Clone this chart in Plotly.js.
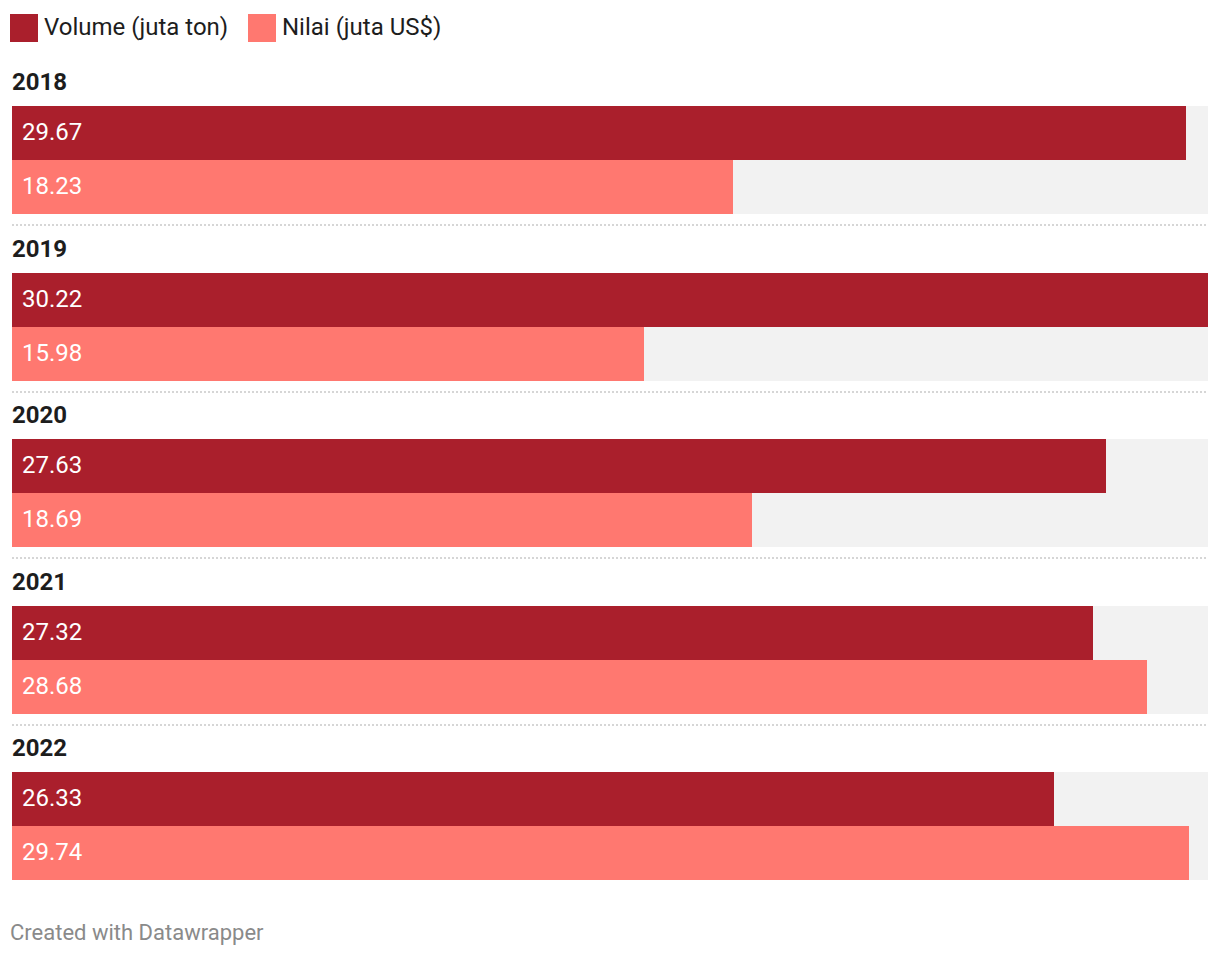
<!DOCTYPE html>
<html>
<head>
<meta charset="utf-8">
<script src="https://cdn.plot.ly/plotly-3.0.1.min.js"></script>
<style>
html,body{margin:0;padding:0;background:#fff;}
#chart{width:1220px;height:958px;}
</style>
</head>
<body>
<div id="chart"></div>
<script>
// ---- data ----
const years = ["2018", "2019", "2020", "2021", "2022"];
const volume = [29.67, 30.22, 27.63, 27.32, 26.33];   // Volume (juta ton)
const nilai  = [18.23, 15.98, 18.69, 28.68, 29.74];   // Nilai (juta US$)
const seriesNames = ["Volume (juta ton)", "Nilai (juta US$)"];

// ---- styling / layout constants ----
const W = 1220, H = 958;
const ML = 12, MR = 12;
const PLOT_W = W - ML - MR;
const C_VOL = "#aa1f2c", C_NIL = "#ff7870", C_BG = "#f2f2f2";
const FONT = "Roboto, 'Noto Sans', sans-serif";
const FIRST_TOP = 106, STEP = 166.5, BAR_H = 54;

const maxVal = Math.max(...volume, ...nilai);
const tops = years.map((_, i) => Math.round(FIRST_TOP + i * STEP));
const volY = tops.map(t => t + BAR_H / 2);
const nilY = tops.map(t => t + BAR_H * 1.5);
const bgY  = tops.map(t => t + BAR_H);
const px = p => (p - ML) / PLOT_W;

const traces = [
  {type: "bar", orientation: "h", x: years.map(() => maxVal), y: bgY, width: BAR_H * 2,
   marker: {color: C_BG}, hoverinfo: "skip", showlegend: false},
  {type: "bar", orientation: "h", name: seriesNames[0], x: volume, y: volY, width: BAR_H,
   marker: {color: C_VOL}, showlegend: false},
  {type: "bar", orientation: "h", name: seriesNames[1], x: nilai, y: nilY, width: BAR_H,
   marker: {color: C_NIL}, showlegend: false}
];

const annotations = [];
const shapes = [];

years.forEach((yr, i) => {
  annotations.push({xref: "paper", yref: "y", x: px(10), y: tops[i] - 24, xanchor: "left", yanchor: "middle",
    text: "<b>" + yr + "</b>", showarrow: false, font: {family: FONT, size: 24, color: "#1d1d1d"}});
  annotations.push({xref: "x", yref: "y", x: 0, xshift: 8, y: volY[i] - 1, xanchor: "left", yanchor: "middle",
    text: volume[i].toFixed(2), showarrow: false, font: {family: FONT, size: 24, color: "#ffffff"}});
  annotations.push({xref: "x", yref: "y", x: 0, xshift: 8, y: nilY[i] - 1, xanchor: "left", yanchor: "middle",
    text: nilai[i].toFixed(2), showarrow: false, font: {family: FONT, size: 24, color: "#ffffff"}});
  if (i < years.length - 1) {
    shapes.push({type: "line", xref: "paper", yref: "y", x0: 0, x1: 1, y0: tops[i] + 119, y1: tops[i] + 119,
      line: {color: "#d6d6d6", width: 2, dash: "2px,2px"}});
  }
});

// legend (custom, large swatches)
const legendItems = [{name: seriesNames[0], color: C_VOL, x: 10}, {name: seriesNames[1], color: C_NIL, x: 248}];
legendItems.forEach(it => {
  shapes.push({type: "rect", xref: "paper", yref: "y", x0: px(it.x), x1: px(it.x + 28), y0: 14, y1: 42,
    fillcolor: it.color, line: {width: 0}});
  annotations.push({xref: "paper", yref: "y", x: px(it.x + 32), y: 27, xanchor: "left", yanchor: "middle",
    text: it.name, showarrow: false, font: {family: FONT, size: 24, color: "#1d1d1d"}});
});

// footer
annotations.push({xref: "paper", yref: "y", x: px(8), y: 932, xanchor: "left", yanchor: "middle",
  text: "Created with Datawrapper", showarrow: false, font: {family: FONT, size: 22, color: "#8a8a8a"}});

const layout = {
  width: W, height: H,
  margin: {l: ML, r: MR, t: 0, b: 0, pad: 0},
  paper_bgcolor: "#ffffff", plot_bgcolor: "#ffffff",
  barmode: "overlay",
  bargap: 0,
  showlegend: false,
  xaxis: {range: [0, maxVal], visible: false, fixedrange: true},
  yaxis: {range: [H, 0], visible: false, fixedrange: true},
  annotations: annotations,
  shapes: shapes,
  font: {family: FONT}
};

Plotly.newPlot("chart", traces, layout, {displayModeBar: false, staticPlot: true});
</script>
</body>
</html>
